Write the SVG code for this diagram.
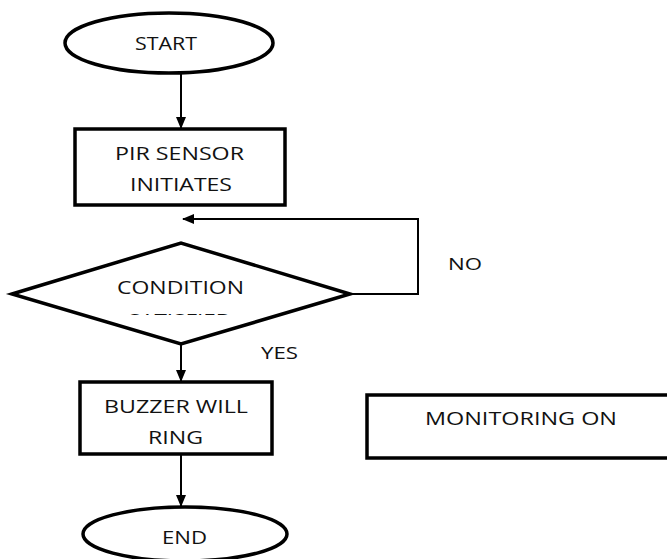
<svg xmlns="http://www.w3.org/2000/svg" width="667" height="559" viewBox="0 0 667 559">
<style>
.sh{fill:#fff;stroke:#000;stroke-width:3.5}
.t{font-family:"Open Sans","Noto Sans",sans-serif;font-size:19px;fill:#111}
.c{fill:none;stroke:#000;stroke-width:2}
</style>
<defs>
<marker id="ah" markerWidth="12" markerHeight="10" refX="11" refY="5" orient="auto" markerUnits="userSpaceOnUse">
<path d="M0,0 L12,5 L0,10 Z" fill="#000"/>
</marker>
<clipPath id="cl"><rect x="0" y="0" width="667" height="315"/></clipPath>
</defs>
<rect width="667" height="559" fill="#fff"/>
<g id="connectors">
<line class="c" x1="181" y1="73" x2="181" y2="128" marker-end="url(#ah)"/>
<polyline class="c" points="350,294 418,294 418,219 183,219" marker-end="url(#ah)"/>
<line class="c" x1="181" y1="344" x2="181" y2="381" marker-end="url(#ah)"/>
<line class="c" x1="181" y1="454" x2="181" y2="506" marker-end="url(#ah)"/>
</g>
<g id="start">
<ellipse class="sh" cx="169" cy="43" rx="104" ry="30"/>
<text class="t" x="135" y="50" textLength="62" lengthAdjust="spacingAndGlyphs">START</text>
</g>
<g id="pir">
<rect class="sh" x="75" y="129" width="210" height="76"/>
<text class="t" x="115" y="160" textLength="129" lengthAdjust="spacingAndGlyphs">PIR SENSOR</text>
<text class="t" x="130" y="191" textLength="102" lengthAdjust="spacingAndGlyphs">INITIATES</text>
</g>
<g id="condition">
<polygon class="sh" points="12,294 181,243 350,294 181,344"/>
<text class="t" x="117" y="294" textLength="127" lengthAdjust="spacingAndGlyphs">CONDITION</text>
<text class="t" x="128" y="327" textLength="104" lengthAdjust="spacingAndGlyphs" clip-path="url(#cl)">SATISFIED</text>
</g>
<g id="labels">
<text class="t" x="448" y="270" style="font-size:16px" textLength="34" lengthAdjust="spacingAndGlyphs">NO</text>
<text class="t" x="261" y="359" style="font-size:16px" textLength="37" lengthAdjust="spacingAndGlyphs">YES</text>
</g>
<g id="buzzer">
<rect class="sh" x="80" y="382" width="192" height="72"/>
<text class="t" x="104" y="413" textLength="144" lengthAdjust="spacingAndGlyphs">BUZZER WILL</text>
<text class="t" x="148" y="444" textLength="55" lengthAdjust="spacingAndGlyphs">RING</text>
</g>
<g id="end">
<ellipse class="sh" cx="185" cy="534" rx="102" ry="27"/>
<text class="t" x="162" y="544" textLength="45" lengthAdjust="spacingAndGlyphs">END</text>
</g>
<g id="monitoring">
<rect class="sh" x="367" y="395" width="310" height="63"/>
<text class="t" x="425" y="425" textLength="192" lengthAdjust="spacingAndGlyphs">MONITORING ON</text>
</g>
</svg>
